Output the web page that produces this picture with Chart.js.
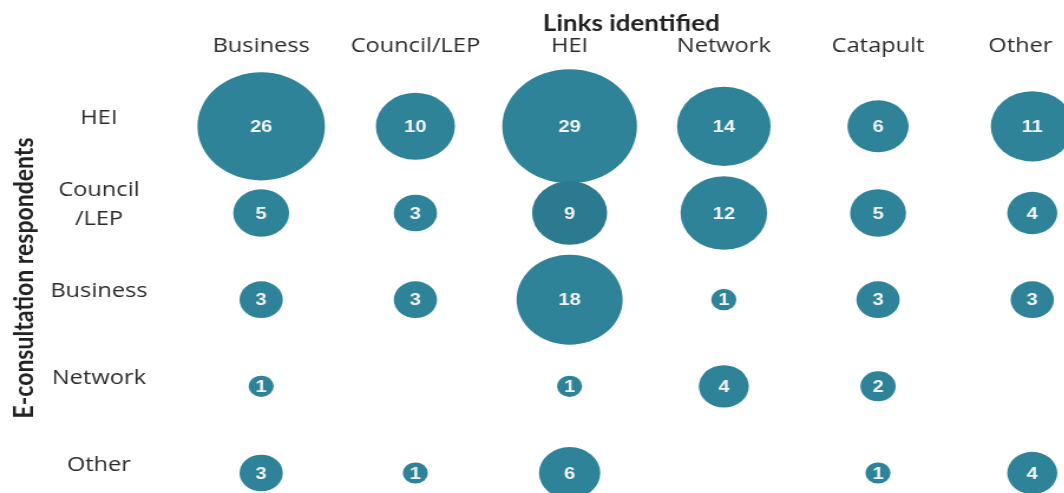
<!DOCTYPE html>
<html>
<head>
<meta charset="utf-8">
<title>Links identified</title>
<script src="https://cdn.jsdelivr.net/npm/chart.js@4/dist/chart.umd.min.js"></script>
<style>
  html, body { margin: 0; padding: 0; background: #fff; overflow: hidden; }
  /* la imagen original esta estirada en horizontal */
  #caja { width: 980px; height: 540px; transform: scaleX(1.18); transform-origin: 0 0; }
</style>
</head>
<body>
<div id="caja"><canvas id="grafica" width="980" height="540"></canvas></div>
<script>
// columnas (links identified) y filas (respondents)
var columnas = ['Business', 'Council/LEP', 'HEI', 'Network', 'Catapult', 'Other'];
var filas = ['HEI', ['Council', '/LEP'], 'Business', 'Network', 'Other'];

// valores por fila, null = sin burbuja
var filaHEI = [26, 10, 29, 14, 6, 11];
var filaCouncil = [5, 3, 9, 12, 5, 4];
var filaBusiness = [3, 3, 18, 1, 3, 3];
var filaNetwork = [1, null, 1, 4, 2, null];
var filaOther = [3, 1, 6, null, 1, 4];
var valores = [filaHEI, filaCouncil, filaBusiness, filaNetwork, filaOther];

var puntos = [];
for (var f = 0; f < valores.length; f++) {
    for (var c = 0; c < columnas.length; c++) {
        if (valores[f][c] !== null) {
            // area proporcional al valor
            puntos.push({x: c, y: f, r: 10.6 * Math.sqrt(valores[f][c]), v: valores[f][c]});
        }
    }
}

// numeros dentro de cada burbuja
var etiquetas = {
    id: 'etiquetas',
    afterDatasetsDraw: function(chart) {
        var ctx = chart.ctx;
        var meta = chart.getDatasetMeta(0);
        ctx.save();
        ctx.fillStyle = '#f4f4f4';
        ctx.font = 'bold 17px "Liberation Sans", Arial, sans-serif';
        ctx.textAlign = 'center';
        ctx.textBaseline = 'middle';
        meta.data.forEach(function(el, i) {
            ctx.fillText(String(puntos[i].v), el.x, el.y + 1);
        });
        ctx.restore();
    }
};

new Chart(document.getElementById('grafica'), {
    type: 'bubble',
    data: {
        datasets: [{
            data: puntos,
            backgroundColor: function(ctx) {
                var p = ctx.raw;
                // la burbuja HEI/Council sale algo mas oscura
                return (p && p.x === 2 && p.y === 1) ? '#2B7A8F' : '#2E8399';
            },
            borderWidth: 0,
            clip: false
        }]
    },
    options: {
        responsive: false,
        animation: false,
        events: [],
        // el canvas es mas grande que la ventana, lo que sobra queda cortado
        layout: { padding: { left: 0, top: 0, right: 66, bottom: 67 } },
        plugins: {
            legend: { display: false },
            tooltip: { enabled: false }
        },
        scales: {
            x: {
                type: 'linear',
                position: 'top',
                min: -0.5,
                max: 5.3,
                grid: { display: false, drawTicks: false },
                border: { display: false },
                afterBuildTicks: function(s) {
                    s.ticks = columnas.map(function(n, i) { return {value: i}; });
                },
                afterFit: function(s) { s.height = 83; },
                ticks: {
                    padding: 25,
                    color: '#2b2b2b',
                    autoSkip: false,
                    maxRotation: 0,
                    font: { family: '"Open Sans", sans-serif', size: 20 },
                    callback: function(v) {
                        // la ultima etiqueta va un poco a la izquierda para que no se corte
                        return v === columnas.length - 1 ? columnas[v] + '\u2003' : columnas[v];
                    }
                },
                title: {
                    display: true,
                    text: 'Links identified',
                    color: '#222',
                    font: { family: 'Lato, sans-serif', weight: 'bold', size: 22 },
                    padding: { top: 11, bottom: 0 }
                }
            },
            y: {
                type: 'linear',
                position: 'left',
                reverse: true,
                min: -0.5,
                max: 4,
                grid: { display: false, drawTicks: false },
                border: { display: false },
                afterBuildTicks: function(s) {
                    s.ticks = filas.map(function(n, i) { return {value: i}; });
                },
                afterFit: function(s) { s.width = 156; },
                ticks: {
                    padding: 31,
                    crossAlign: 'center',
                    labelOffset: -8,
                    color: '#2b2b2b',
                    autoSkip: false,
                    font: { family: '"Open Sans", sans-serif', size: 20, lineHeight: 1.45 },
                    callback: function(v) { return filas[v]; }
                },
                title: {
                    display: true,
                    text: 'E-consultation respondents',
                    color: '#222',
                    font: { family: 'Lato, sans-serif', weight: 'bold', size: 23 },
                    padding: { top: 7, bottom: 0 }
                }
            }
        }
    },
    plugins: [etiquetas]
});
</script>
</body>
</html>
